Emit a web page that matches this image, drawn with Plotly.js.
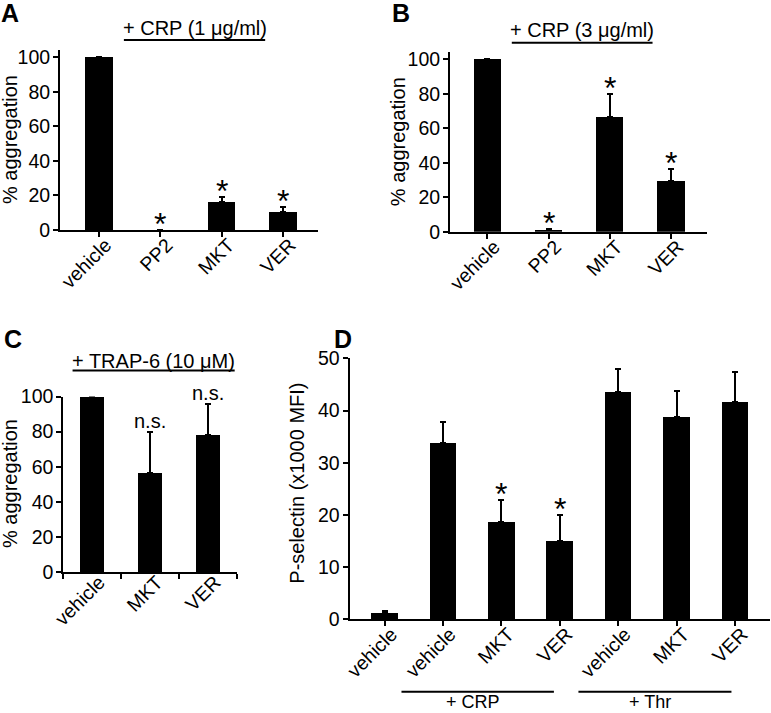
<!DOCTYPE html>
<html>
<head>
<meta charset="utf-8">
<script src="https://cdn.plot.ly/plotly-3.0.1.min.js"></script>
<style>html,body{margin:0;padding:0;background:#fff;}#chart{width:771px;height:713px;}</style>
</head>
<body>
<div id="chart"></div>
<script>
// ---- data ----
const catsA = ['vehicle', 'PP2', 'MKT', 'VER'];
const valsA = [100, 0, 16.4, 10.4];
const errA  = [0.3, 0, 2.5, 2.7];
const sigA  = ['', '*', '*', '*'];

const catsB = ['vehicle', 'PP2', 'MKT', 'VER'];
const valsB = [100, 1.0, 66.7, 29.4];
const errB  = [0.3, 0.8, 13.3, 7.0];
const sigB  = ['', '*', '*', '*'];

const catsC = ['vehicle', 'MKT', 'VER'];
const valsC = [100, 56.7, 78.2];
const errC  = [0.3, 23.0, 17.5];
const sigC  = ['', 'n.s.', 'n.s.'];

const catsD = ['vehicle', 'vehicle ', 'MKT', 'VER', 'vehicle  ', 'MKT ', 'VER '];
const tickD = ['vehicle', 'vehicle', 'MKT', 'VER', 'vehicle', 'MKT', 'VER'];
const valsD = [1.15, 33.8, 18.7, 15.0, 43.5, 38.8, 41.6];
const errD  = [0.5, 4.0, 4.1, 5.0, 4.4, 4.9, 5.7];
const sigD  = ['', '', '*', '*', '', '', ''];

const headA = '+ CRP (1 \u03bcg/ml)';
const headB = '+ CRP (3 \u03bcg/ml)';
const headC = '+ TRAP-6 (10 \u03bcM)';
const groupD = ['+ CRP', '+ Thr'];

// ---- helpers ----
const W = 771, H = 713;
const px = x => x / W;
const py = y => 1 - y / H;
const FONT = 'Liberation Sans, Arial, Helvetica, sans-serif';
const zeros = a => a.map(() => 0);

function barTrace(cats, vals, err, xa, ya, width) {
  return {
    type: 'bar', x: cats, y: vals, xaxis: xa, yaxis: ya,
    width: width,
    marker: {color: '#000', line: {width: 0}},
    error_y: {type: 'data', symmetric: false, array: err, arrayminus: zeros(err),
              color: '#000', thickness: 2, width: 3},
    hoverinfo: 'none'
  };
}

const data = [
  barTrace(catsA, valsA, errA, 'x', 'y', 0.45),
  barTrace(catsB, valsB, errB, 'x2', 'y2', 0.45),
  barTrace(catsC, valsC, errC, 'x3', 'y3', 0.41),
  barTrace(catsD, valsD, errD, 'x4', 'y4', 0.456)
];

const tickFont = {family: FONT, size: 19.5, color: '#000'};
function yax(domain, range, dtick, anchor) {
  return {domain: domain, range: range, dtick: dtick, tick0: 0, anchor: anchor,
    showgrid: false, zeroline: false, showline: true, linecolor: '#000', linewidth: 2,
    ticks: 'outside', ticklen: 5, tickwidth: 2, tickcolor: '#000', ticklabelstandoff: -1,
    tickfont: tickFont, fixedrange: true};
}
function xax(domain, range, anchor, extra) {
  return Object.assign({domain: domain, range: range, anchor: anchor, type: 'category',
    showgrid: false, zeroline: false, showline: true, linecolor: '#000', linewidth: 2,
    ticks: 'outside', ticklen: 5, tickwidth: 2, tickcolor: '#000',
    ticklabelstandoff: -11, ticklabelshift: 7,
    tickangle: -45, tickfont: tickFont, fixedrange: true}, extra || {});
}

const layout = {
  width: W, height: H, margin: {l: 0, r: 0, t: 0, b: 0},
  paper_bgcolor: '#fff', plot_bgcolor: 'rgba(0,0,0,0)',
  showlegend: false, hovermode: false, bargap: 0,
  font: {family: FONT, color: '#000'},
  xaxis:  xax([px(60), px(318)], [-0.63, 3.57], 'y'),
  yaxis:  yax([py(230), py(50)], [0, 104.2], 20, 'x'),
  xaxis2: xax([px(450), px(707)], [-0.61, 3.59], 'y2'),
  yaxis2: yax([py(231.7), py(51.7)], [0, 104.4], 20, 'x2'),
  xaxis3: xax([px(63.3), px(237)], [-0.5, 2.5], 'y3', {tickson: 'boundaries'}),
  yaxis3: yax([py(572.3), py(396.5)], [0, 100], 20, 'x3'),
  xaxis4: xax([px(349.5), px(770)], [-0.6, 6.6], 'y4', {tickvals: catsD, ticktext: tickD}),
  yaxis4: yax([py(619.3), py(358.3)], [0, 50], 10, 'x4'),
  shapes: [],
  annotations: []
};

const ann = layout.annotations, shp = layout.shapes;
// panel letters
[['A', 10, 13], ['B', 401, 13], ['C', 13, 339], ['D', 343, 339]].forEach(([t, x, y]) => {
  ann.push({text: '<b>' + t + '</b>', xref: 'paper', yref: 'paper', x: px(x), y: py(y),
    xanchor: 'center', yanchor: 'middle', showarrow: false, font: {family: FONT, size: 25, color: '#000'}});
});
// y titles
[['% aggregation', 10, 140], ['% aggregation', 397.5, 141.7], ['% aggregation', 10, 484],
 ['P-selectin (x1000 MFI)', 296.7, 483]].forEach(([t, x, y]) => {
  ann.push({text: t, xref: 'paper', yref: 'paper', x: px(x), y: py(y), textangle: -90,
    xanchor: 'center', yanchor: 'middle', showarrow: false, font: {family: FONT, size: 20, color: '#000'}});
});
// headers with underline
[[headA, 'x', 0.41, 2.71, 28, 40], [headB, 'x2', 0.4, 2.7, 30, 42.7], [headC, 'x3', -0.34, 2.46, 361, 370.5]]
  .forEach(([t, xr, x0, x1, ty, ly]) => {
  ann.push({text: t, xref: xr, yref: 'paper', x: (x0 + x1) / 2, y: py(ty), xanchor: 'center', yanchor: 'middle',
    showarrow: false, font: {family: FONT, size: 20, color: '#000'}});
  shp.push({type: 'line', xref: xr, yref: 'paper', x0: x0, x1: x1, y0: py(ly), y1: py(ly),
    line: {color: '#000', width: 2}});
});
// D groups
[[groupD[0], 0.29, 2.9], [groupD[1], 3.32, 5.94]].forEach(([t, x0, x1]) => {
  shp.push({type: 'line', xref: 'x4', yref: 'paper', x0: x0, x1: x1, y0: py(691.7), y1: py(691.7),
    line: {color: '#000', width: 2}});
  ann.push({text: t, xref: 'x4', yref: 'paper', x: (x0 + x1) / 2 - 0.08, y: py(702), xanchor: 'center', yanchor: 'middle',
    showarrow: false, font: {family: FONT, size: 18, color: '#000'}});
});
// significance marks
function sig(cats, vals, err, marks, xr, yr, ticks) {
  marks.forEach((m, i) => {
    if (!m) return;
    const star = m === '*';
    ann.push({text: m, xref: xr, yref: yr, x: ticks ? ticks[i] : cats[i], y: vals[i] + err[i],
      xanchor: 'center', yanchor: 'bottom', showarrow: false, yshift: star ? -14 : -2,
      font: {family: FONT, size: star ? 32 : 20, color: '#000'}});
  });
}
sig(catsA, valsA, errA, sigA, 'x', 'y');
sig(catsB, valsB, errB, sigB, 'x2', 'y2');
sig(catsC, valsC, errC, sigC, 'x3', 'y3');
sig(catsD, valsD, errD, sigD, 'x4', 'y4');

Plotly.newPlot('chart', data, layout, {staticPlot: true, displayModeBar: false});
</script>
</body>
</html>
